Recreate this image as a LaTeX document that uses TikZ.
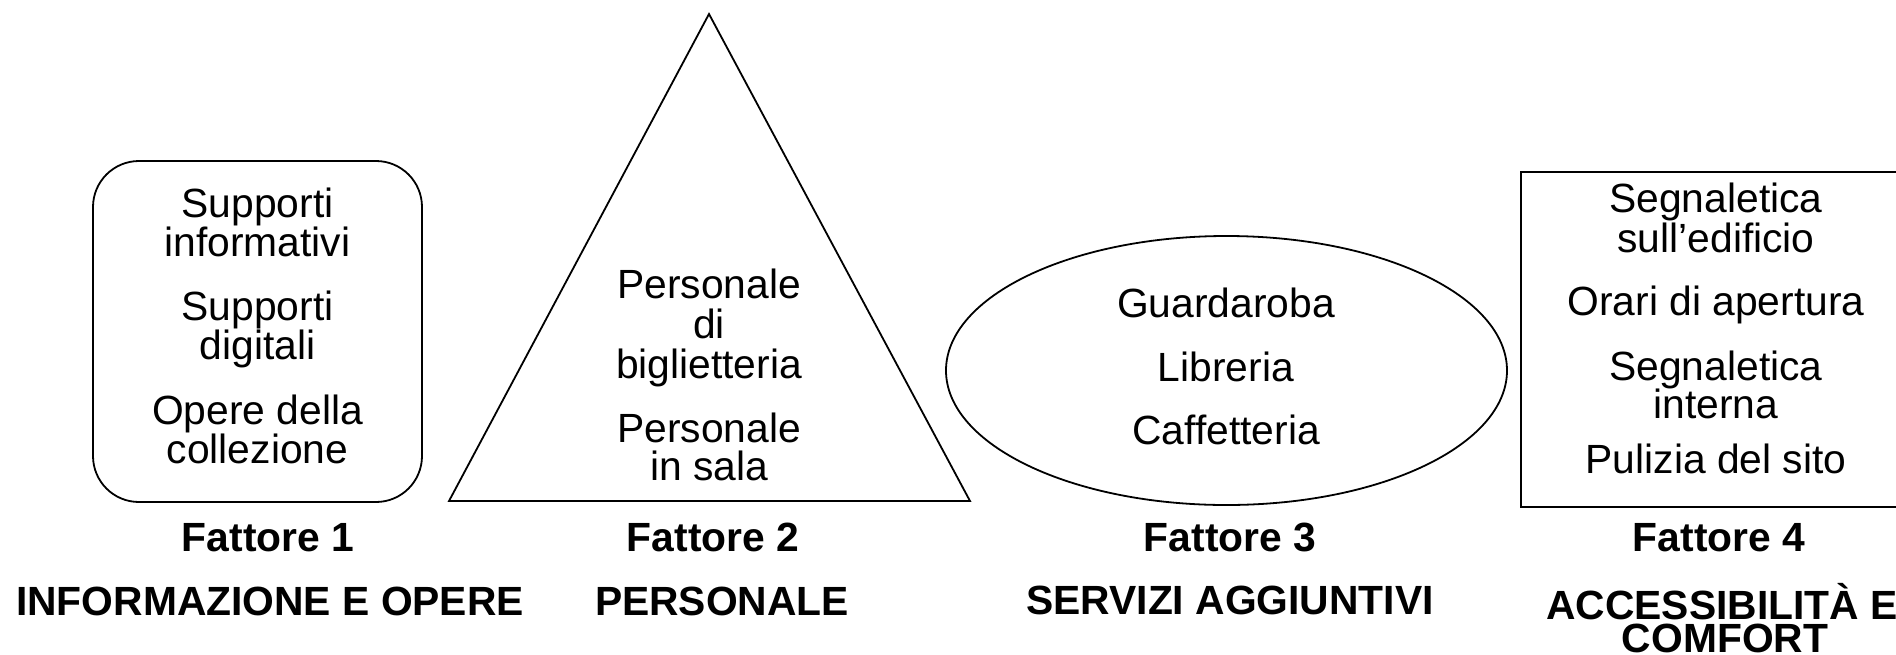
\documentclass[tikz,border=0pt]{standalone}
\usepackage{fontspec}
\setmainfont{Liberation Sans}
\begin{document}
\begin{tikzpicture}[x=0.5pt,y=-0.5pt,
  shape line/.style={draw=black, line width=0.9pt},
  txt/.style={font=\fontsize{20.4}{20}\selectfont, anchor=base, inner sep=0pt},
  lbl/.style={font=\bfseries\fontsize{20.4}{20}\selectfont, anchor=base, inner sep=0pt},
  tight/.style={text height=0.72em, text depth=0pt}]
\useasboundingbox[fill=white] (0,0) rectangle (1896,654);
\clip (0,0) rectangle (1896,654);
% shapes
\draw[shape line, rounded corners=23pt] (93,161) rectangle (422,502);
\coordinate (tl) at (449,501);
\coordinate (tt) at (709,14);
\coordinate (tr) at (970,501);
\draw[shape line, line join=miter] (tl) -- (tt) -- (tr) -- cycle;
\coordinate (ec) at (1226.5,370.5);
\draw[shape line] (ec) ellipse [x radius=140.25pt, y radius=67.25pt];
\draw[shape line] (1521,172) rectangle (1912,507);
% factor 1 texts
\node[txt] (a1) at (257.5,217) {Supporti};
\node[txt] (a2) at (257.5,256) {informativi};
\node[txt] (a3) at (257.5,320) {Supporti};
\node[txt] (a4) at (257.5,359) {digitali};
\node[txt] (a5) at (257.5,424) {Opere della};
\node[txt] (a6) at (257.5,463) {collezione};
% factor 2 texts
\node[txt] (b1) at (709,298) {Personale};
\node[txt] (b2) at (709,338) {di};
\node[txt] (b3) at (709,378) {biglietteria};
\node[txt] (b4) at (709,442) {Personale};
\node[txt] (b5) at (709,480) {in sala};
% factor 3 texts
\node[txt] (c1) at (1226,317) {Guardaroba};
\node[txt] (c2) at (1226,381) {Libreria};
\node[txt] (c3) at (1226,444) {Caffetteria};
% factor 4 texts
\node[txt] (d1) at (1716,212) {Segnaletica};
\node[txt] (d2) at (1716,252) {sull’edificio};
\node[txt] (d3) at (1716,315) {Orari di apertura};
\node[txt] (d4) at (1716,380) {Segnaletica};
\node[txt] (d5) at (1716,418) {interna};
\node[txt] (d6) at (1716,473) {Pulizia del sito};
% labels
\node[lbl] (f1) at (268,551) {Fattore 1};
\node[lbl] (f2) at (713,551) {Fattore 2};
\node[lbl] (f3) at (1230,551) {Fattore 3};
\node[lbl] (f4) at (1719,551) {Fattore 4};
\node[lbl] (g1) at (270,615) {INFORMAZIONE E OPERE};
\node[lbl] (g2) at (722,615) {PERSONALE};
\node[lbl] (g3) at (1230,614) {SERVIZI AGGIUNTIVI};
\node[lbl, tight] (g4) at (1722,619) {ACCESSIBILITÀ E};
\node[lbl, tight] (g5) at (1725,652) {COMFORT};
\end{tikzpicture}
\end{document}
